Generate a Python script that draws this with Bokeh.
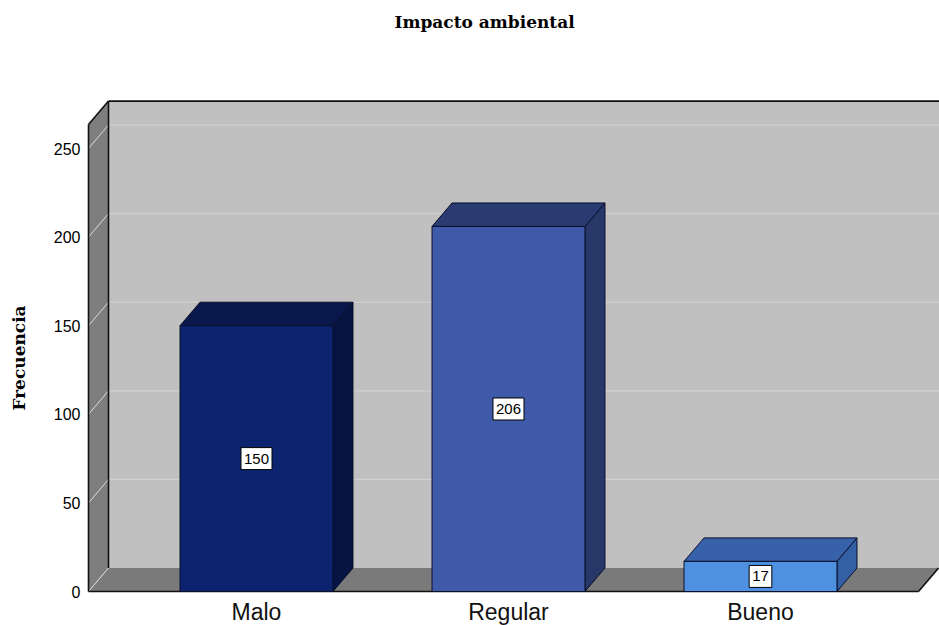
import numpy as np
from bokeh.plotting import figure
from bokeh.models import FixedTicker, Range1d, ColumnDataSource, Title
from bokeh.core.properties import value
from bokeh.embed import file_html
from bokeh.resources import INLINE

# ---- data ----
categories = ["Malo", "Regular", "Bueno"]
frecuencias = [150, 206, 17]
y_ticks = [0, 50, 100, 150, 200, 250]
title_text = "Impacto ambiental"
y_label = "Frecuencia"

front_colors = ["#0C2470", "#3F5AA8", "#4E91E1"]
top_colors = ["#08184B", "#2A3B72", "#3761A8"]
side_colors = ["#061441", "#273767", "#3360A4"]

# ---- layout constants ----
W, H = 939, 625
TOP_PANEL = 92              # title + spacer height (measured)
FH = H - TOP_PANEL          # frame reaches the bottom of the figure
FW = W                      # frame spans the full width (axes use fixed locations)
PX_X = 252.0                # px per category unit
PX_Y = 1.772                # px per frequency unit
AXIS_X_PX = 88              # front axis x, px from figure left
ZERO_PX = 34                # zero line, px above figure bottom
positions = np.arange(1, len(categories) + 1, dtype=float)
AX_LEFT = positions[0] - 168 / PX_X
x_start = AX_LEFT - AXIS_X_PX / PX_X
x_end = x_start + FW / PX_X
y_start = -ZERO_PX / PX_Y
y_end = y_start + FH / PX_Y

DX = 20 / PX_X
DY = 23.5 / PX_Y
AX_TOP = 263.5
BAR_W = 0.607
FLOOR_R = AX_LEFT + 830 / PX_X
FAR = x_end + 1

p = figure(width=W, height=H, x_range=Range1d(x_start, x_end), y_range=Range1d(y_start, y_end),
           output_backend="svg", toolbar_location=None, min_border=0,
           background_fill_color="white", border_fill_color="white", outline_line_color=None)
p.grid.visible = False

# spacer between the frame and the title
p.add_layout(Title(text=" ", text_font_size="1px", standoff=49), "above")
p.title.text = title_text
p.title.align = "left"
p.title.offset = 394
p.title.standoff = 18
p.title.text_font = "DejaVu Serif"
p.title.text_font_size = "17px"
p.title.text_font_style = "bold"
p.title.text_color = "black"

ya = p.yaxis[0]
ya.fixed_location = AX_LEFT
ya.bounds = (0, AX_TOP)
ya.ticker = FixedTicker(ticks=y_ticks)
ya.axis_line_color = None
ya.major_tick_line_color = None
ya.minor_tick_line_color = None
ya.major_tick_out = 0
ya.major_tick_in = 0
ya.minor_tick_out = 0
ya.minor_tick_in = 0
ya.major_label_standoff = 8
ya.major_label_text_font = "Liberation Sans"
ya.major_label_text_font_size = "16px"
ya.major_label_text_color = "black"
ya.axis_label = y_label
ya.axis_label_text_font = "DejaVu Serif"
ya.axis_label_text_font_style = "bold"
ya.axis_label_text_font_size = "17px"
ya.axis_label_text_color = "black"
ya.axis_label_standoff = 22

xa = p.xaxis[0]
xa.fixed_location = 0
xa.ticker = FixedTicker(ticks=list(positions))
xa.major_label_overrides = {float(pp): c for pp, c in zip(positions, categories)}
xa.axis_line_color = None
xa.major_tick_line_color = None
xa.minor_tick_line_color = None
xa.major_tick_out = 0
xa.major_tick_in = 0
xa.minor_tick_out = 0
xa.minor_tick_in = 0
xa.major_label_standoff = 7
xa.major_label_text_font = "Liberation Sans"
xa.major_label_text_font_size = "23px"
xa.major_label_text_color = "#111111"

# ---- back wall ----
p.quad(left=[AX_LEFT + DX], right=[FAR], bottom=[DY], top=[AX_TOP + DY],
       fill_color="#C0C0C0", line_color=None)
gt = np.array([t for t in y_ticks if t > 0], dtype=float)
p.segment(x0=[AX_LEFT + DX] * len(gt), y0=gt + DY, x1=[FAR] * len(gt), y1=gt + DY,
          line_color="#D0D0D0", line_width=1.2)

# ---- left wall ----
p.patch(x=[AX_LEFT, AX_LEFT + DX, AX_LEFT + DX, AX_LEFT], y=[0, DY, AX_TOP + DY, AX_TOP],
        fill_color="#7E7E7E", line_color=None)
# ---- floor ----
p.patch(x=[AX_LEFT, FLOOR_R, FLOOR_R + DX, AX_LEFT + DX], y=[0, 0, DY, DY],
        fill_color="#7A7A7A", line_color=None)
tt = np.array(y_ticks, dtype=float)
p.segment(x0=[AX_LEFT] * len(tt), y0=tt, x1=[AX_LEFT + DX] * len(tt), y1=tt + DY,
          line_color="#DDDDDD", line_width=1)

# ---- edges ----
ex0 = [AX_LEFT, AX_LEFT, AX_LEFT, AX_LEFT + DX, AX_LEFT + DX, FLOOR_R]
ey0 = [0, 0, AX_TOP, AX_TOP + DY, DY, 0]
ex1 = [AX_LEFT, FLOOR_R, AX_LEFT + DX, FAR, AX_LEFT + DX, FLOOR_R + DX]
ey1 = [AX_TOP, 0, AX_TOP + DY, AX_TOP + DY, AX_TOP + DY, DY]
p.segment(x0=ex0, y0=ey0, x1=ex1, y1=ey1, line_color="#111111", line_width=1.6)

# ---- bars ----
vals = np.array(frecuencias, dtype=float)
lefts = positions - BAR_W / 2
rights = positions + BAR_W / 2
side_xs = [[r, r + DX, r + DX, r] for r in rights]
side_ys = [[0, DY, v + DY, v] for v in vals]
top_xs = [[l, l + DX, r + DX, r] for l, r in zip(lefts, rights)]
top_ys = [[v, v + DY, v + DY, v] for v in vals]
p.patches(xs=side_xs, ys=side_ys, fill_color=side_colors, line_color="#0A0F2A", line_width=1)
p.patches(xs=top_xs, ys=top_ys, fill_color=top_colors, line_color="#0A0F2A", line_width=1)
p.quad(left=lefts, right=rights, bottom=0, top=vals, fill_color=front_colors,
       line_color="#0A0F2A", line_width=1)

src = ColumnDataSource(dict(x=positions, y=vals / 2, t=[str(v) for v in frecuencias]))
p.text(x="x", y="y", text="t", source=src, text_align="center", text_baseline="middle",
       text_font=value("Liberation Sans"), text_font_size="15px", text_color="black",
       background_fill_color="white", border_line_color="black", border_line_width=1,
       padding=dict(left=3, right=3, top=6, bottom=6))

open("out.html", "w").write(file_html(p, INLINE))
